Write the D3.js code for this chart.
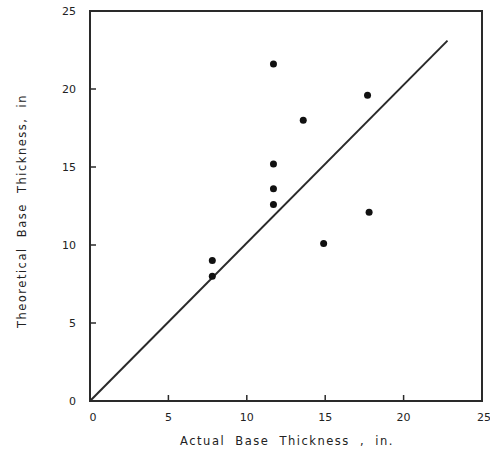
<!DOCTYPE html>
<html>
<head>
<meta charset="utf-8">
<style>
body { margin: 0; background: #fff; }
text { font-family: "DejaVu Sans", sans-serif; fill: #222; }
.tick-label { font-size: 11px; }
.axis-title { font-size: 11.5px; letter-spacing: 1.5px; word-spacing: 5px; }
</style>
</head>
<body>
<script src="https://cdn.jsdelivr.net/npm/d3@7"></script>
<script>
// measured thickness (in.) vs theoretical thickness (in.)
var actual      = [11.7, 17.7, 13.6, 11.7, 11.7, 11.7, 17.8, 14.9, 7.8, 7.8];
var theoretical = [21.6, 19.6, 18.0, 15.2, 13.6, 12.6, 12.1, 10.1, 9.0, 8.0];
var tickValues = [0, 5, 10, 15, 20, 25];
var lineEnds = [0, 22.8];

var width = 490, height = 460;
var margin = {top: 11, right: 8, bottom: 59, left: 90};

var svg = d3.select("body").append("svg")
    .attr("width", width)
    .attr("height", height);

var x = d3.scaleLinear().domain([0, 25]).range([margin.left, width - margin.right]);
var y = d3.scaleLinear().domain([0, 25]).range([height - margin.bottom, margin.top]);

var ink = "#2a2a2a";

// frame
svg.append("rect")
    .attr("x", x(0)).attr("y", y(25))
    .attr("width", x(25) - x(0)).attr("height", y(0) - y(25))
    .attr("fill", "none").attr("stroke", ink).attr("stroke-width", 2);

// inward ticks
svg.append("g").selectAll("line")
    .data(tickValues.slice(1, -1))
    .enter().append("line")
    .attr("x1", function(d){ return x(d); }).attr("x2", function(d){ return x(d); })
    .attr("y1", y(0) + 1).attr("y2", y(0) - 6)
    .attr("stroke", ink).attr("stroke-width", 1.5);

svg.append("g").selectAll("line")
    .data(tickValues.slice(1, -1))
    .enter().append("line")
    .attr("y1", function(d){ return y(d); }).attr("y2", function(d){ return y(d); })
    .attr("x1", x(0)).attr("x2", x(0) + 6)
    .attr("stroke", ink).attr("stroke-width", 1.5);

// tick labels
svg.append("g").selectAll("text")
    .data(tickValues)
    .enter().append("text")
    .attr("class", "tick-label")
    .attr("x", function(d){ return x(d); })
    .attr("y", y(0) + 20)
    .attr("text-anchor", function(d){ return d === 25 ? "end" : "middle"; })
    .attr("dx", function(d){ return d === 0 ? 3 : (d === 25 ? 9 : 0); })
    .text(function(d){ return d; });

svg.append("g").selectAll("text")
    .data(tickValues)
    .enter().append("text")
    .attr("class", "tick-label")
    .attr("x", x(0) - 14)
    .attr("y", function(d){ return y(d) + 4; })
    .attr("text-anchor", "end")
    .text(function(d){ return d; });

// axis titles
svg.append("text")
    .attr("class", "axis-title")
    .attr("x", 287).attr("y", 445)
    .attr("text-anchor", "middle")
    .text("Actual Base Thickness , in.");

svg.append("text")
    .attr("class", "axis-title")
    .attr("transform", "translate(26," + 211 + ") rotate(-90)")
    .attr("text-anchor", "middle")
    .text("Theoretical Base Thickness, in");

// line of equality
svg.append("line")
    .attr("x1", x(lineEnds[0])).attr("y1", y(lineEnds[0]))
    .attr("x2", x(lineEnds[1])).attr("y2", y(lineEnds[1] + 0.3))
    .attr("stroke", ink).attr("stroke-width", 2);

// points
svg.append("g").selectAll("circle")
    .data(actual)
    .enter().append("circle")
    .attr("cx", function(d){ return x(d); })
    .attr("cy", function(d, i){ return y(theoretical[i]); })
    .attr("r", 3.5)
    .attr("fill", "#111");
</script>
</body>
</html>
